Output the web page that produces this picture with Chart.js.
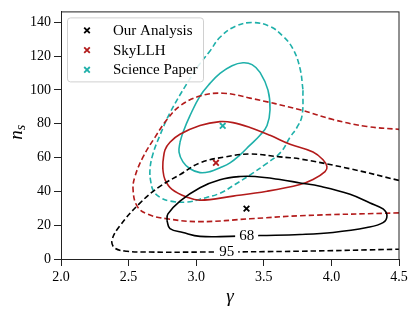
<!DOCTYPE html>
<html lang="en">
  <head>
    <meta charset="UTF-8">
    <title>Contours</title>
    <script src="https://cdn.jsdelivr.net/npm/chart.js"></script>
    <style>
      body { margin: 0; background: #fff; }
    </style>
  </head>

  <body>
    <canvas id="grafico" width="415" height="312"></canvas>

    <script>
      // ticks
      const xTicks = [2.0, 2.5, 3.0, 3.5, 4.0, 4.5]
      const yTicks = [0, 20, 40, 60, 80, 100, 120, 140]

      const nomes = ["Our Analysis", "SkyLLH", "Science Paper"]
      const cores = ["#000000", "#b31b1b", "#1fb0aa"]

      // best fit points (gamma, ns)
      const melhorGamma = [3.372, 3.146, 3.196]
      const melhorNs = [29.8, 56.9, 78.8]

      // Our Analysis contours
      const oursG68 = [2.784, 2.791, 2.880, 3.028, 3.176, 3.324, 3.435, 3.620, 3.768, 3.916, 4.138, 4.286, 4.382, 4.411, 4.382, 4.263, 4.012, 3.768, 3.472, 3.250, 3.028, 2.902, 2.806, 2.784]
      const oursN68 = [22.6, 26.7, 34.3, 42.2, 46.9, 48.8, 48.8, 47.0, 45.0, 43.0, 38.3, 33.1, 29.6, 25.6, 21.5, 18.6, 15.7, 14.5, 13.9, 13.4, 13.4, 15.7, 18.0, 22.6]
      const oursG95 = [4.500, 4.138, 3.768, 3.620, 3.398, 3.213, 3.028, 2.880, 2.732, 2.584, 2.436, 2.377, 2.399, 2.488, 2.658, 3.028, 3.768, 4.500]
      const oursN95 = [46.5, 53.4, 59.2, 60.4, 62.1, 60.4, 56.9, 49.9, 43.0, 33.1, 19.7, 11.0, 6.4, 4.6, 4.1, 4.1, 4.6, 5.8]

      // SkyLLH contours
      const skyG68 = [2.754, 2.769, 2.806, 2.880, 3.028, 3.176, 3.272, 3.398, 3.546, 3.694, 3.864, 3.938, 3.967, 3.953, 3.864, 3.768, 3.524, 3.272, 3.028, 2.932, 2.821, 2.769, 2.754, 2.754]
      const skyN68 = [57.5, 64.5, 69.1, 73.8, 79.0, 81.3, 80.7, 77.8, 73.2, 67.9, 63.3, 58.7, 54.6, 51.7, 47.0, 44.1, 40.1, 37.2, 34.8, 36.6, 41.2, 47.0, 52.8, 57.5]
      const skyG95 = [4.500, 3.768, 3.398, 3.028, 2.784, 2.636, 2.562, 2.533, 2.547, 2.607, 2.695, 2.784, 2.880, 3.028, 3.198, 3.398, 3.768, 4.012, 4.263, 4.500]
      const skyN95 = [27.3, 25.6, 23.8, 22.1, 23.8, 26.7, 31.4, 41.2, 48.8, 60.4, 72.0, 82.5, 90.6, 96.4, 98.1, 95.2, 88.3, 82.5, 78.4, 76.7]

      // Science Paper contours
      const sciG68 = [2.880, 2.902, 2.954, 3.028, 3.102, 3.176, 3.265, 3.346, 3.413, 3.472, 3.531, 3.546, 3.524, 3.472, 3.398, 3.324, 3.250, 3.176, 3.102, 3.028, 2.954, 2.902, 2.873, 2.880]
      const sciN68 = [69.1, 74.9, 84.8, 96.4, 103.9, 109.8, 114.4, 116.1, 115.0, 110.4, 99.9, 88.3, 79.0, 73.2, 67.4, 61.6, 56.9, 54.0, 51.7, 51.1, 53.4, 57.5, 63.3, 69.1]
      const sciG95 = [3.790, 3.783, 3.745, 3.694, 3.627, 3.517, 3.413, 3.287, 3.176, 3.028, 2.932, 2.806, 2.730, 2.685, 2.665, 2.658, 2.680, 2.732, 2.806, 2.932, 3.028, 3.102, 3.176, 3.287, 3.413, 3.546, 3.642, 3.716, 3.768, 3.790]
      const sciN95 = [99.9, 84.8, 77.8, 72.0, 63.3, 56.3, 50.5, 44.1, 38.9, 35.4, 33.7, 34.3, 36.6, 40.1, 45.3, 52.8, 62.1, 73.2, 86.5, 103.9, 115.6, 123.1, 131.2, 137.6, 139.9, 137.6, 131.8, 124.3, 112.7, 99.9]

      // contour labels on our analysis
      const rotulos = ["68", "95"]
      const rotuloGamma = [3.373, 3.226]
      const rotuloNs = [13.6, 4.6]

      const pontos = (gs, ns) => gs.map((g, i) => ({ x: g, y: ns[i] }))

      const linha = (gs, ns, cor, tracejado) => ({
        data: pontos(gs, ns),
        showLine: true,
        borderColor: cor,
        borderWidth: 1.6,
        borderDash: tracejado ? [5.5, 3] : [],
        pointRadius: 0,
        tension: 0.4,
        fill: false
      })

      const datasets = [
        linha(oursG68, oursN68, cores[0], false),
        linha(oursG95, oursN95, cores[0], true),
        linha(skyG68, skyN68, cores[1], false),
        linha(skyG95, skyN95, cores[1], true),
        linha(sciG68, sciN68, cores[2], false),
        linha(sciG95, sciN95, cores[2], true)
      ]
      nomes.forEach((nome, i) => {
        datasets.push({
          label: nome,
          data: [{ x: melhorGamma[i], y: melhorNs[i] }],
          pointStyle: 'crossRot',
          pointRadius: 4,
          borderColor: cores[i],
          borderWidth: 1.8,
          showLine: false
        })
      })

      const fonte = 'Liberation Serif'

      const extras = {
        id: 'extras',
        afterDatasetsDraw(chart) {
          const c = chart.ctx
          const a = chart.chartArea
          const sx = chart.scales.x, sy = chart.scales.y

          // contour labels with gap in the line
          c.save()
          c.font = '15px "' + fonte + '"'
          c.textAlign = 'center'
          c.textBaseline = 'middle'
          rotulos.forEach((t, i) => {
            const px = sx.getPixelForValue(rotuloGamma[i])
            const py = sy.getPixelForValue(rotuloNs[i])
            const w = c.measureText(t).width + 8
            c.fillStyle = '#fff'
            c.fillRect(px - w / 2, py - 3, w, 6)
            c.fillStyle = '#000'
            c.fillText(t, px, py + 0.5)
          })
          c.restore()

          // frame
          c.save()
          c.strokeStyle = '#222'
          c.lineWidth = 1
          c.strokeRect(a.left + 0.5, a.top + 0.5, a.right - a.left - 0.5, a.bottom - a.top)
          c.restore()

          // legend
          c.save()
          const lx = a.left + 6, ly = a.top + 6, lw = 136, lh = 64
          c.beginPath()
          c.roundRect(lx + 0.5, ly + 0.5, lw, lh, 3)
          c.fillStyle = 'rgba(255,255,255,0.85)'
          c.fill()
          c.strokeStyle = '#d0d0d0'
          c.lineWidth = 1
          c.stroke()
          c.font = '15px "' + fonte + '"'
          c.textBaseline = 'middle'
          nomes.forEach((nome, i) => {
            const y = ly + 13 + i * 19.7
            const x = lx + 20
            c.strokeStyle = cores[i]
            c.lineWidth = 1.8
            c.beginPath()
            c.moveTo(x - 2.8, y - 2.8); c.lineTo(x + 2.8, y + 2.8)
            c.moveTo(x - 2.8, y + 2.8); c.lineTo(x + 2.8, y - 2.8)
            c.stroke()
            c.fillStyle = '#000'
            c.fillText(nome, lx + 46, y + 0.5)
          })
          c.restore()

          // axis titles
          c.save()
          c.fillStyle = '#000'
          c.font = 'italic 19px "' + fonte + '"'
          c.textAlign = 'center'
          c.textBaseline = 'middle'
          c.fillText('γ', (a.left + a.right) / 2, 297)
          c.translate(17, (a.top + a.bottom) / 2 - 3)
          c.rotate(-Math.PI / 2)
          const wn = c.measureText('n').width
          c.font = 'italic 14px "' + fonte + '"'
          const ws = c.measureText('s').width
          c.textAlign = 'left'
          c.font = 'italic 19px "' + fonte + '"'
          c.fillText('n', -(wn + ws) / 2, 0)
          c.font = 'italic 14px "' + fonte + '"'
          c.fillText('s', -(wn + ws) / 2 + wn, 4)
          c.restore()
        }
      }

      const eixoFonte = { family: fonte, size: 14 }

      const grafico = new Chart(document.getElementById('grafico'), {
        type: 'scatter',
        data: { datasets: datasets },
        options: {
          responsive: false,
          animation: false,
          devicePixelRatio: 1,
          layout: { padding: { top: 7, right: 16, left: 0, bottom: 0 } },
          plugins: {
            legend: { display: false },
            tooltip: { enabled: false }
          },
          scales: {
            x: {
              type: 'linear',
              min: 2,
              max: 4.5,
              afterBuildTicks: s => { s.ticks = xTicks.map(v => ({ value: v })) },
              afterFit: s => { s.height = 53 },
              grid: { drawOnChartArea: false, tickLength: 7, color: '#222', lineWidth: 1 },
              border: { color: '#222', width: 1 },
              ticks: { font: eixoFonte, color: '#000', padding: 3, maxRotation: 0, callback: v => Number(v).toFixed(1) }
            },
            y: {
              type: 'linear',
              min: 0,
              max: 146.5,
              afterBuildTicks: s => { s.ticks = yTicks.map(v => ({ value: v })) },
              afterFit: s => { s.width = 61 },
              grid: { drawOnChartArea: false, tickLength: 7, color: '#222', lineWidth: 1 },
              border: { color: '#222', width: 1 },
              ticks: { font: eixoFonte, color: '#000', padding: 3, callback: v => String(v) }
            }
          }
        },
        plugins: [extras]
      })
    </script>
  </body>
</html>
